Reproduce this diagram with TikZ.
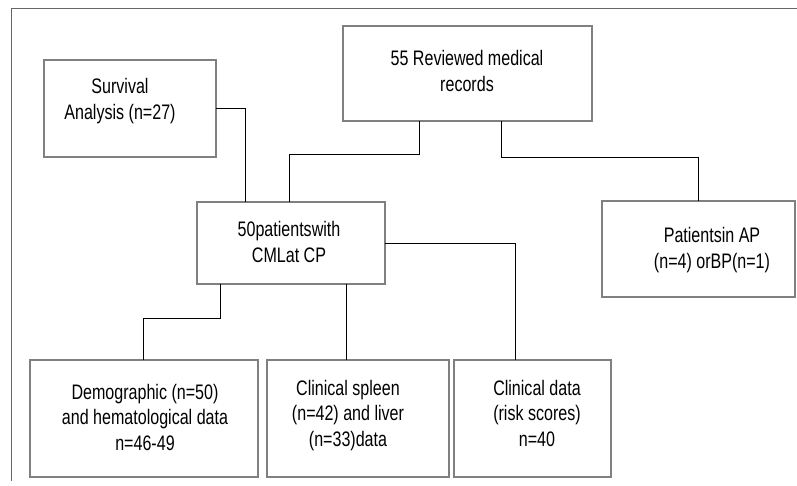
\documentclass[tikz,border=0pt]{standalone}
\usepackage{fontspec}
\setmainfont{Liberation Sans}[FakeStretch=0.765]
\usetikzlibrary{calc}
\definecolor{boxgray}{HTML}{808080}
\definecolor{framegray}{HTML}{666666}
\tikzset{
  box/.style={draw=boxgray, line width=1.1pt, rectangle, inner sep=0pt, outer sep=0pt},
  txt/.style={align=center, inner sep=0pt, anchor=base, font=\fontsize{21}{25.5}\selectfont},
  conn/.style={draw=black, line width=1pt},
  frame/.style={draw=framegray, line width=1pt}
}
\begin{document}
\begin{tikzpicture}[x=1pt, y=-1pt]
\useasboundingbox (0,0) rectangle (797,485);
% open frame
\coordinate (fr) at (797,8);
\coordinate (fc) at (11,8);
\coordinate (fb) at (11,481);
\draw[frame] (fr) -- (fc) -- (fb);
% boxes
\node[box, minimum width=172pt, minimum height=97pt] (surv) at (130,108.5) {};
\node[box, minimum width=249pt, minimum height=95pt] (b55) at (467.5,73.5) {};
\node[box, minimum width=188pt, minimum height=82pt] (p50) at (291,243) {};
\node[box, minimum width=193pt, minimum height=96pt] (pap) at (698.5,249) {};
\node[box, minimum width=228pt, minimum height=117pt] (demo) at (144,418.5) {};
\node[box, minimum width=182pt, minimum height=117pt] (spl) at (358,418.5) {};
\node[box, minimum width=157pt, minimum height=117pt] (clin) at (532.5,418.5) {};
% texts (anchor = baseline of last line)
\node[txt] (tsurv) at (120,119) {Survival\\Analysis (n=27)};
\node[txt] (tb55) at (467,91) {55 Reviewed medical\\records};
\node[txt] (tp50) at (289,262) {50patientswith\\CMLat CP};
\node[txt] (tpap) at (712,268) {Patientsin AP\\(n=4) orBP(n=1)};
\node[txt] (tdemo) at (145,450) {Demographic (n=50)\\and hematological data\\n=46-49};
\node[txt] (tspl) at (348,446) {Clinical spleen\\(n=42) and liver\\(n=33)data};
\node[txt] (tclin) at (537,446) {Clinical data\\(risk scores)\\n=40};
% connectors
\draw[conn] (surv.east) -| ($(p50.north west)+(48,0)$);
\draw[conn] ($(b55.south west)+(76,0)$) -- ++(0,33) -| ($(p50.north west)+(92,0)$);
\draw[conn] ($(b55.south west)+(158,0)$) -- ++(0,36) -| (pap.north);
\draw[conn] ($(p50.south west)+(23,0)$) -- ++(0,34) -| ($(demo.north west)+(113,0)$);
\draw[conn] ($(p50.south west)+(149,0)$) coordinate (c5) -- (c5 |- spl.north);
\draw[conn] (p50.east) -| ($(clin.north west)+(61,0)$);
\end{tikzpicture}
\end{document}
